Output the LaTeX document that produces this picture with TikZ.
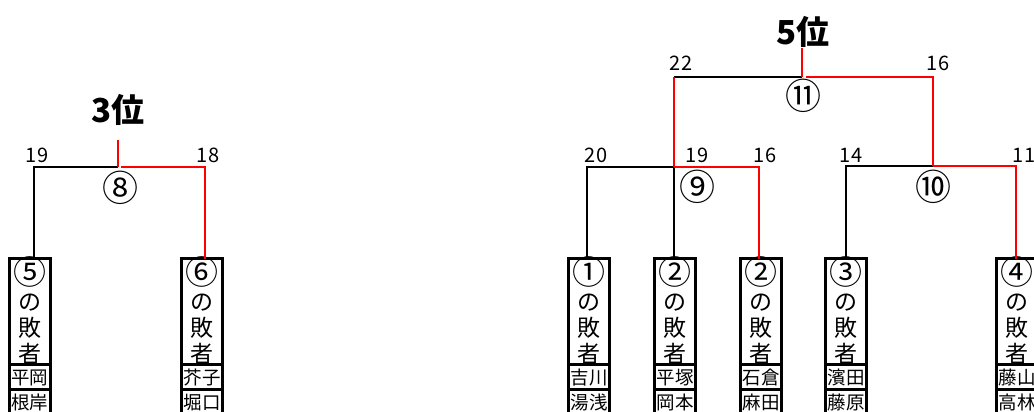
\documentclass[tikz,border=0pt]{standalone}
\usepackage{fontspec}
\setmainfont{Noto Sans CJK JP}
\newfontfamily\jp{Noto Sans CJK JP}
\newcommand{\cnum}[1]{{\fontsize{33}{26}\selectfont #1}}
\begin{document}
\begin{tikzpicture}[x=1pt,y=-1pt,
  cell/.style={draw, line width=3pt, minimum width=41pt, inner sep=0pt, outer sep=0pt, anchor=north, font=\jp},
  mainc/.style={cell, minimum height=105.5pt},
  stack/.style={align=center, inner sep=0pt, yshift=0.5pt, font=\jp\fontsize{23}{26}\selectfont},
  namec/.style={cell, minimum height=25pt, text height=19pt, text depth=4pt, font=\jp\fontsize{18.5}{19}\selectfont},
  score/.style={font=\jp\fontsize{20}{21}\selectfont},
  mno/.style={font=\jp\fontsize{36}{36}\selectfont},
  title/.style={font=\jp\bfseries\fontsize{33}{34}\selectfont},
  win/.style={red, line width=2pt},
  lose/.style={black, line width=2pt}]
\useasboundingbox (0,0) rectangle (1034,412);
\clip (0,0) rectangle (1034,412);
% boxes
\node[mainc] (b5) at (30,258.5) {};
\node[stack] (x5) at (b5.center) {\cnum{⑤}\\の\\敗\\者};
\node[namec] (n5a) at (b5.south) {平岡};
\node[namec] (n5b) at (n5a.south) {根岸};
\node[mainc] (b6) at (202,258.5) {};
\node[stack] (x6) at (b6.center) {\cnum{⑥}\\の\\敗\\者};
\node[namec] (n6a) at (b6.south) {芥子};
\node[namec] (n6b) at (n6a.south) {堀口};
\node[mainc] (b1) at (589,258.5) {};
\node[stack] (x1) at (b1.center) {\cnum{①}\\の\\敗\\者};
\node[namec] (n1a) at (b1.south) {吉川};
\node[namec] (n1b) at (n1a.south) {湯浅};
\node[mainc] (b2) at (675,258.5) {};
\node[stack] (x2) at (b2.center) {\cnum{②}\\の\\敗\\者};
\node[namec] (n2a) at (b2.south) {平塚};
\node[namec] (n2b) at (n2a.south) {岡本};
\node[mainc] (b2b) at (761,258.5) {};
\node[stack] (x2b) at (b2b.center) {\cnum{②}\\の\\敗\\者};
\node[namec] (n2ba) at (b2b.south) {石倉};
\node[namec] (n2bb) at (n2ba.south) {麻田};
\node[mainc] (b3) at (846,258.5) {};
\node[stack] (x3) at (b3.center) {\cnum{③}\\の\\敗\\者};
\node[namec] (n3a) at (b3.south) {濱田};
\node[namec] (n3b) at (n3a.south) {藤原};
\node[mainc] (b4) at (1017,258.5) {};
\node[stack] (x4) at (b4.center) {\cnum{④}\\の\\敗\\者};
\node[namec] (n4a) at (b4.south) {藤山};
\node[namec] (n4b) at (n4a.south) {高林};
% match 8
\coordinate (c8L) at (34,167);
\coordinate (c8M) at (118,167);
\coordinate (c8Mr) at (121,167);
\coordinate (c8R) at (205,167);
\coordinate (c8T) at (118,140);
\draw[lose] (c8L |- b5.north) -- (c8L) -- (c8M);
\draw[win] (c8R |- b6.north) -- (c8R) -- (c8Mr);
\draw[win] (c8T) -- (c8M);
\node[score] (s8a) at (37,155) {19};
\node[score] (s8b) at (208,155) {18};
\node[mno] (m8) at (120,188) {⑧};
\node[title] (t3) at (118,110) {3位};
% match 9
\coordinate (c9L) at (587,167);
\coordinate (c9M) at (674,167);
\coordinate (c9R) at (759,167);
\draw[lose] (c9L |- b1.north) -- (c9L) -- (c9M);
\draw[lose] (c9M |- b2.north) -- (c9M);
\draw[win] (c9R |- b2b.north) -- (c9R) -- (c9M);
\node[score] (s9a) at (596,155) {20};
\node[score] (s9b) at (697,155) {19};
\node[score] (s9c) at (765,155) {16};
\node[mno] (m9) at (697,187) {⑨};
% match 10
\coordinate (c10L) at (846,166);
\coordinate (c10M) at (933,166);
\coordinate (c10R) at (1016,166);
\draw[lose] (c10L |- b3.north) -- (c10L) -- (c10M);
\draw[win] (c10R |- b4.north) -- (c10R) -- (c10M);
\node[score] (s10a) at (851,155) {14};
\node[score] (s10b) at (1024,155) {11};
\node[mno] (m10) at (933,187) {⑩};
% match 11
\coordinate (c11L) at (674,77);
\coordinate (c11M) at (802,77);
\coordinate (c11Mr) at (806,77);
\coordinate (c11R) at (933,77);
\coordinate (c11T) at (802,48);
\draw[lose] (c11L) -- (c11M);
\draw[win] (c9M) -- (c11L);
\draw[win] (c10M) -- (c11R) -- (c11Mr);
\draw[win] (c11T) -- (c11M);
\node[score] (s11a) at (681,63) {22};
\node[score] (s11b) at (938,63) {16};
\node[mno] (m11) at (803,96) {⑪};
\node[title] (t5) at (803,32) {5位};
\end{tikzpicture}
\end{document}
